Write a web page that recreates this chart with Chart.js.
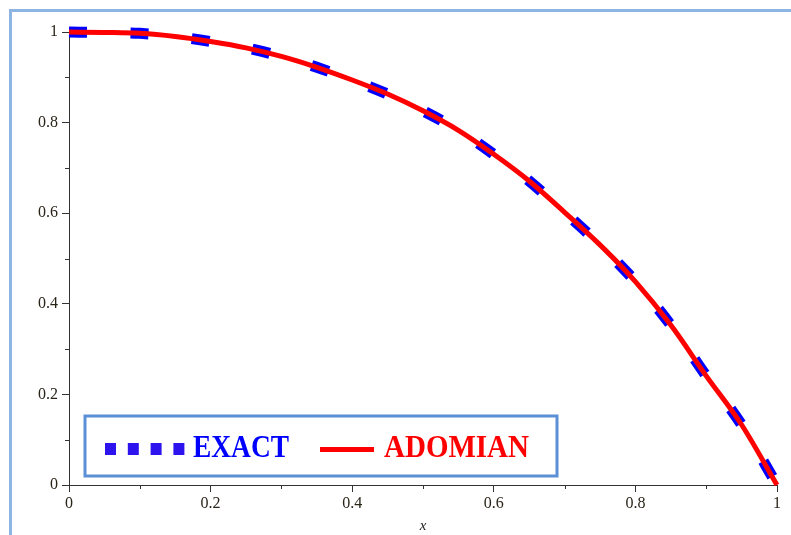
<!DOCTYPE html>
<html>
<head>
<meta charset="utf-8">
<script src="https://cdn.jsdelivr.net/npm/chart.js@4.4.1/dist/chart.umd.min.js"></script>
<style>
  html, body { margin: 0; padding: 0; background: #fff; }
  #wrap { position: relative; width: 791px; height: 535px; overflow: hidden; }
  #frame { position: absolute; left: 9px; top: 9px; width: 900px; height: 700px;
           border-left: 3.5px solid #8db4e2; border-top: 3.5px solid #8db4e2; }
  canvas { position: absolute; left: 0; top: 0; }
</style>
</head>
<body>
<div id="wrap">
  <div id="frame"></div>
  <canvas id="plot" width="791" height="535"></canvas>
</div>
<script>
// values
const xs      = [0, 0.05, 0.1, 0.15, 0.2, 0.25, 0.3, 0.35, 0.4, 0.45, 0.5,
                 0.55, 0.6, 0.65, 0.7, 0.75, 0.8, 0.85, 0.9, 0.95, 1];
const exact   = [1.000, 0.999, 0.997, 0.990, 0.979, 0.965, 0.946, 0.922, 0.894, 0.863, 0.826,
                 0.783, 0.730, 0.671, 0.602, 0.530, 0.449, 0.353, 0.241, 0.133, 0.000];
const adomian = [1.000, 0.999, 0.997, 0.990, 0.979, 0.965, 0.946, 0.922, 0.894, 0.863, 0.826,
                 0.783, 0.730, 0.671, 0.602, 0.530, 0.449, 0.353, 0.241, 0.133, 0.000];
const xTicks  = [0, 0.2, 0.4, 0.6, 0.8, 1];
const yTicks  = [0, 0.2, 0.4, 0.6, 0.8, 1];
const minorTicks = [0.1, 0.3, 0.5, 0.7, 0.9];

const serif = "'Liberation Serif', 'DejaVu Serif', serif";

// short unlabeled ticks between the labeled ones
const minorTickPlugin = {
  id: 'minorTicks',
  afterDraw(chart) {
    const { ctx, scales: { x, y } } = chart;
    ctx.save();
    ctx.strokeStyle = '#333';
    ctx.lineWidth = 1;
    ctx.beginPath();
    minorTicks.forEach(v => {
      const px = Math.round(x.getPixelForValue(v)) + 0.5;
      ctx.moveTo(px, y.bottom);
      ctx.lineTo(px, y.bottom + 4);
      const py = Math.round(y.getPixelForValue(v)) + 0.5;
      ctx.moveTo(x.left - 4, py);
      ctx.lineTo(x.left, py);
    });
    ctx.stroke();
    ctx.restore();
  }
};

// boxed legend inside the plot, bottom left
const boxLegendPlugin = {
  id: 'boxLegend',
  afterDraw(chart) {
    const ctx = chart.ctx;
    const ds = chart.data.datasets;
    ctx.save();
    ctx.fillStyle = '#fff';
    ctx.fillRect(85, 416, 472, 60);
    ctx.strokeStyle = '#5b8fd6';
    ctx.lineWidth = 3;
    ctx.strokeRect(85, 416, 472, 60);

    // dotted sample for EXACT
    ctx.fillStyle = '#2d14ee';
    for (let i = 0; i < 4; i++) ctx.fillRect(105 + i * 22.8, 443, 11, 12);
    // solid sample for ADOMIAN
    ctx.fillStyle = ds[1].borderColor;
    ctx.fillRect(320, 447, 54, 5);

    ctx.font = "bold 32px " + serif;
    ctx.textBaseline = 'alphabetic';
    const drawFit = (txt, x0, x1, color) => {
      const w = ctx.measureText(txt).width;
      ctx.save();
      ctx.translate(x0, 457);
      ctx.scale((x1 - x0) / w, 1);
      ctx.fillStyle = color;
      ctx.fillText(txt, 0, 0);
      ctx.restore();
    };
    drawFit(ds[0].label, 193, 289, ds[0].borderColor);
    drawFit(ds[1].label, 384, 529, ds[1].borderColor);
    ctx.restore();
  }
};

new Chart(document.getElementById('plot'), {
  type: 'line',
  data: {
    datasets: [{
      label: 'EXACT',
      data: xs.map((x, i) => ({ x, y: exact[i] })),
      borderColor: '#0000ff',
      borderWidth: 11,
      borderDash: [18, 43.5],
      borderCapStyle: 'butt',
      pointRadius: 0,
      cubicInterpolationMode: 'monotone',
      order: 1
    }, {
      label: 'ADOMIAN',
      data: xs.map((x, i) => ({ x, y: adomian[i] })),
      borderColor: '#ff0000',
      borderWidth: 5,
      pointRadius: 0,
      cubicInterpolationMode: 'monotone',
      order: 0
    }]
  },
  options: {
    responsive: false,
    animation: false,
    clip: false,
    layout: { padding: { left: 0, right: 14, top: 32, bottom: 0 } },
    plugins: { legend: { display: false }, tooltip: { enabled: false } },
    scales: {
      x: {
        type: 'linear', min: 0, max: 1,
        afterBuildTicks: s => { s.ticks = xTicks.map(v => ({ value: v })); },
        afterFit: s => { s.height = 50; },
        border: { color: '#333', width: 1 },
        grid: { drawOnChartArea: false, tickLength: 7, color: '#333' },
        ticks: { color: '#2a2418', font: { family: serif, size: 16 }, padding: 2,
                 maxRotation: 0, autoSkip: false, callback: v => String(v) },
        title: { display: true, text: 'x', color: '#222',
                 font: { family: serif, size: 15, style: 'italic' }, padding: { top: 0, bottom: 0 } }
      },
      y: {
        type: 'linear', min: 0, max: 1,
        afterBuildTicks: s => { s.ticks = yTicks.map(v => ({ value: v })); },
        afterFit: s => { s.width = 69; },
        border: { color: '#333', width: 1 },
        grid: { drawOnChartArea: false, tickLength: 7, color: '#333' },
        ticks: { color: '#2a2418', font: { family: serif, size: 16 }, padding: 4,
                 autoSkip: false, callback: v => String(v) }
      }
    }
  },
  plugins: [minorTickPlugin, boxLegendPlugin]
});
</script>
</body>
</html>
